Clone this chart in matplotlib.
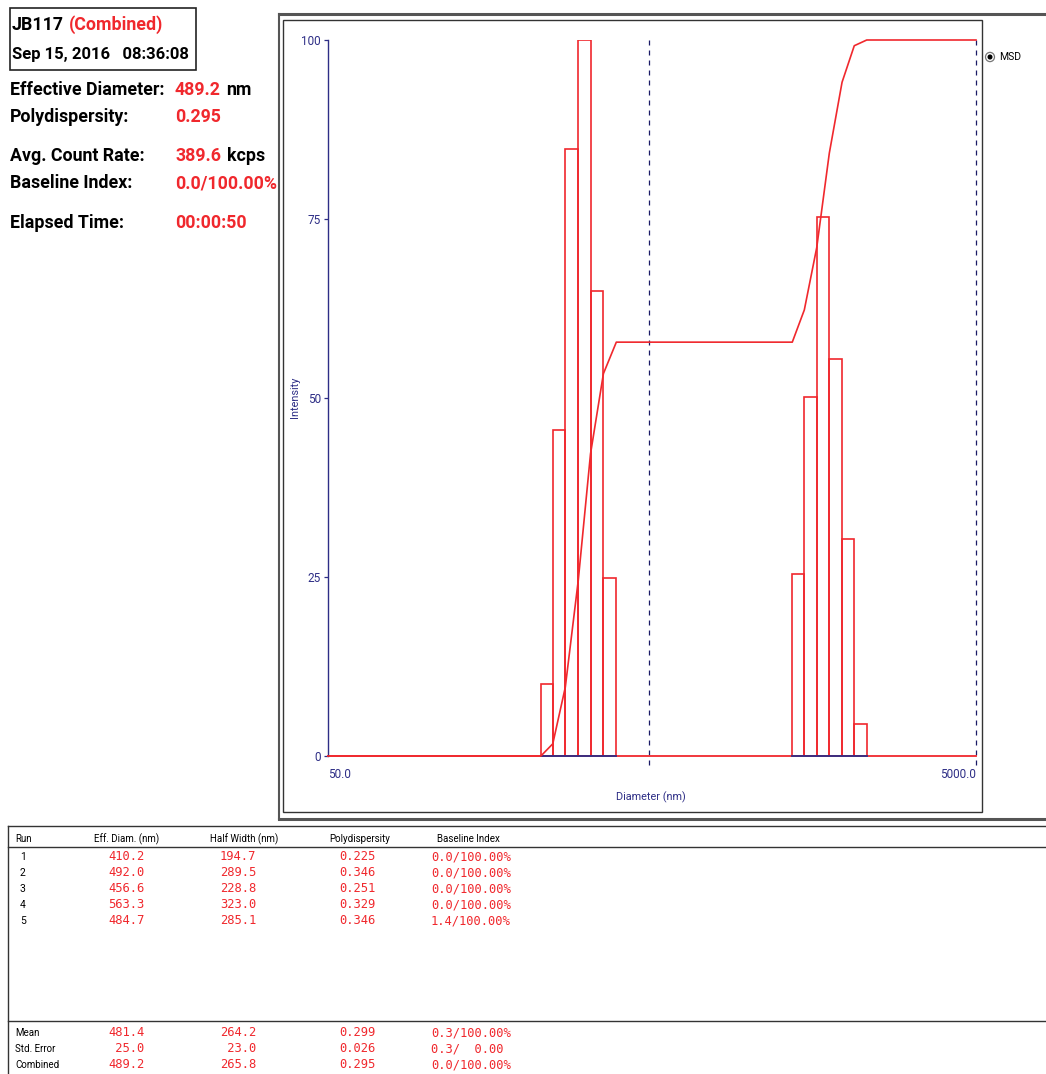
import matplotlib
matplotlib.use("Agg")
import matplotlib.pyplot as plt
from matplotlib.lines import Line2D
from matplotlib.patches import Rectangle, Circle
from matplotlib.text import Annotation
from matplotlib.ticker import NullLocator

# ---------------- data ----------------
bin_lo = [227, 247, 270, 296, 323, 354, 1355, 1476, 1612, 1763, 1930, 2105]
bin_hi = [247, 270, 296, 323, 354, 388, 1476, 1612, 1763, 1930, 2105, 2300]
intensity = [10.0, 45.6, 84.8, 100.0, 65.0, 24.8, 25.4, 50.2, 75.3, 55.4, 30.3, 4.4]

cdf_diam = [50, 227, 247, 270, 296, 323, 354, 388, 1355, 1476, 1612, 1763, 1930, 2105, 2300, 5000]
cdf_val = [0, 0, 1.7, 9.6, 24.5, 42.2, 53.4, 57.8, 57.8, 62.3, 71.0, 84.2, 94.1, 99.2, 100, 100]

eff_diam = 489.2
x_range = (50, 5000)
y_ticks = [0, 25, 50, 75, 100]

info_labels = ["Effective Diameter:", "Polydispersity:", "Avg. Count Rate:", "Baseline Index:", "Elapsed Time:"]
info_values = ["489.2", "0.295", "389.6", "0.0/100.00%", "00:00:50"]
info_units = ["nm", "", "kcps", "", ""]

table_headers = ["Run", "Eff. Diam. (nm)", "Half Width (nm)", "Polydispersity", "Baseline Index"]
runs = ["1", "2", "3", "4", "5"]
run_eff = ["410.2", "492.0", "456.6", "563.3", "484.7"]
run_half = ["194.7", "289.5", "228.8", "323.0", "285.1"]
run_poly = ["0.225", "0.346", "0.251", "0.329", "0.346"]
run_base = ["0.0/100.00%", "0.0/100.00%", "0.0/100.00%", "0.0/100.00%", "1.4/100.00%"]
sum_labels = ["Mean", "Std. Error", "Combined"]
sum_eff = ["481.4", " 25.0", "489.2"]
sum_half = ["264.2", " 23.0", "265.8"]
sum_poly = ["0.299", "0.026", "0.295"]
sum_base = ["0.3/100.00%", "0.3/  0.00", "0.0/100.00%"]

# ---------------- style ----------------
W, H = 1046, 1074
RED = "#f0282d"
NAVY = "#2e2e86"
DASH = "#1a1a66"
NARROW = ["Roboto", "DejaVu Sans"]
MONO = ["DejaVu Sans Mono"]

fig = plt.figure(figsize=(W / 100, H / 100), dpi=100)


def fx(x):
    return x / W


def fy(y):
    return 1 - y / H


def fline(x0, y0, x1, y1, **kw):
    fig.add_artist(Line2D([fx(x0), fx(x1)], [fy(y0), fy(y1)], transform=fig.transFigure, **kw))


def ftext(x, y, s, **kw):
    return fig.text(fx(x), fy(y), s, **kw)


# ---------------- chart ----------------
ax = fig.add_axes([fx(328), fy(756), (976 - 328) / W, (756 - 40) / H])
ax.patch.set_alpha(0)
ax.set_xscale("log")
ax.set_xlim(*x_range)
ax.set_ylim(0, 100)
for s in ["top", "right", "bottom"]:
    ax.spines[s].set_visible(False)
ax.spines["left"].set_color(NAVY)
ax.spines["left"].set_linewidth(1.0)

# red baseline (histogram outline at zero)
ax.plot(x_range, [0, 0], color=RED, lw=1.3, zorder=2, clip_on=False)
# bars
widths = [h - l for l, h in zip(bin_lo, bin_hi)]
ax.bar(bin_lo, intensity, width=widths, align="edge", fill=False,
       edgecolor=RED, linewidth=1.2, zorder=3)
# blue axis visible under clusters
ax.plot([bin_lo[0], bin_hi[5]], [0, 0], color=NAVY, lw=1.3, zorder=4, clip_on=False)
ax.plot([bin_lo[6], bin_hi[11]], [0, 0], color=NAVY, lw=1.3, zorder=4, clip_on=False)
# cumulative curve
ax.plot(cdf_diam, cdf_val, color=RED, lw=1.2, zorder=5, clip_on=False)

# dashed lines
for xv in [eff_diam, x_range[1]]:
    ax.plot([xv, xv], [100, -1.3], color=DASH, lw=0.9, ls=(0, (4, 4)), clip_on=False, zorder=1)

ax.set_yticks(y_ticks)
ax.set_yticklabels([str(t) for t in y_ticks], family=NARROW, color=NAVY, fontsize=8.5)
ax.tick_params(axis="y", length=3, color=NAVY, pad=2, width=0.9)
ax.set_xticks(list(x_range))
ax.xaxis.set_minor_locator(NullLocator())
ax.set_xticklabels(["50.0", "5000.0"], family=NARROW, color=NAVY, fontsize=8.5)
ax.tick_params(axis="x", length=0, pad=9)
xl = ax.get_xticklabels()
xl[0].set_ha("left")
xl[1].set_ha("right")

ftext(651, 797, "Diameter (nm)", ha="center", va="center", color=NAVY, fontsize=7.8, family=NARROW)
ftext(295, 397, "Intensity", ha="center", va="center", rotation=90, color=NAVY, fontsize=7.8, family=NARROW)

# legend radio
fig.add_artist(Circle((fx(990), fy(57)), 4.5 / W, transform=fig.transFigure,
                      fill=False, edgecolor="#777777", lw=0.9))
fig.add_artist(Circle((fx(990), fy(57)), 1.8 / W, transform=fig.transFigure,
                      color="black"))
ftext(999, 57, "MSD", ha="left", va="center", fontsize=7.5, family=NARROW, color="black")

# frames
fline(279, 14, 1046, 14, color="#555555", lw=2.2)
fline(279, 14, 279, 819, color="#555555", lw=1.5)
fline(279, 819, 1046, 819, color="#555555", lw=2.2)
fig.add_artist(Rectangle((fx(283), fy(812)), (982 - 283) / W, (812 - 20) / H,
                         transform=fig.transFigure, fill=False, edgecolor="#333333", lw=1.0))

# ---------------- header info ----------------
fig.add_artist(Rectangle((fx(10), fy(70)), (196 - 10) / W, (70 - 8) / H,
                         transform=fig.transFigure, fill=False, edgecolor="#222222", lw=1.2))
BIG = dict(fontsize=12.8, fontweight="bold", family=NARROW, va="center")
t_id = ftext(12, 25, "JB117", color="black", **BIG)
fig.add_artist(Annotation("(Combined)", xy=(1, 0.5), xycoords=t_id, xytext=(3.5, 0),
                          textcoords="offset points", color=RED, ha="left", **BIG))
ftext(12, 54, "Sep 15, 2016   08:36:08", color="black",
      **{**BIG, "fontsize": 12.0})

info_y = [90, 117, 156, 183, 223]
for lab, val, unit, yy in zip(info_labels, info_values, info_units, info_y):
    ftext(10, yy, lab, color="black", **BIG)
    t = ftext(175, yy, val, color=RED, **BIG)
    if unit:
        fig.add_artist(Annotation(unit, xy=(1, 0.5), xycoords=t, xytext=(4, 0),
                                  textcoords="offset points", color="black", ha="left", **BIG))

# ---------------- table ----------------
fline(8, 826, 1046, 826, color="#333333", lw=1.0)
fline(8, 826, 8, 1074, color="#333333", lw=1.0)
fline(8, 847, 1046, 847, color="#333333", lw=1.0)
fline(8, 1021, 1046, 1021, color="#333333", lw=1.0)

SMALL = dict(fontsize=7.0, family=NARROW, va="center", color="black")
hdr_x = [15, 127, 244, 360, 468]
ftext(hdr_x[0], 839, table_headers[0], ha="left", **SMALL)
for h, xx in zip(table_headers[1:], hdr_x[1:]):
    ftext(xx, 839, h, ha="center", **SMALL)

VAL = dict(fontsize=8.7, family=MONO, va="center", color=RED, ha="left")
col_x = [108, 220, 339, 431]
for i in range(len(runs)):
    yy = 857 + 16 * i
    ftext(20, yy, runs[i], ha="left", fontsize=7.5, family=NARROW, va="center", color="black")
    for col, xx in zip([run_eff, run_half, run_poly, run_base], col_x):
        ftext(xx, yy, col[i], **VAL)

for i in range(len(sum_labels)):
    yy = 1033 + 16 * i
    ftext(15, yy, sum_labels[i], ha="left", **SMALL)
    for col, xx in zip([sum_eff, sum_half, sum_poly, sum_base], col_x):
        ftext(xx, yy, col[i], **VAL)

fig.savefig("out.png", dpi=100)
